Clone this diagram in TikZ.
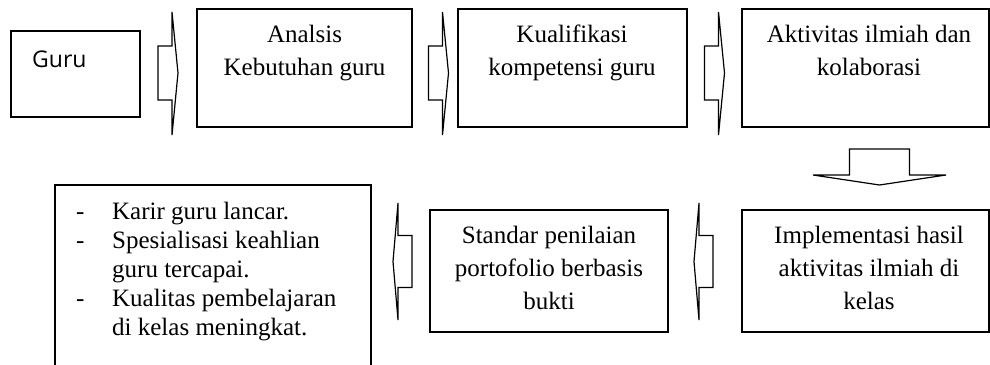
\documentclass[tikz,border=0pt]{standalone}
\usepackage{fontspec}
\setmainfont{Liberation Serif}
\newfontfamily\gurufont{Open Sans}
\begin{document}
\begin{tikzpicture}[x=1pt,y=-1pt,
  box/.style={draw, line width=2pt, rectangle, inner sep=0pt},
  txt/.style={inner sep=0pt, align=center, font=\fontsize{25}{33}\selectfont},
  listtxt/.style={inner sep=0pt, align=left, font=\fontsize{25}{29}\selectfont},
  blockarrow/.style={draw, line width=1.2pt, line join=miter, fill=white},
  rarr/.pic={\path[blockarrow] (-10,-27) -- (4,-27) -- (4,-61) -- (10,0) -- (4,62) -- (4,27) -- (-10,27) -- cycle;},
  larr/.pic={\path[blockarrow] (9.5,-26) -- (-4.5,-26) -- (-4.5,-58.5) -- (-9.5,0) -- (-4.5,58.5) -- (-4.5,26) -- (9.5,26) -- cycle;},
  darr/.pic={\path[blockarrow] (-30,0) -- (-30,26) -- (-66.5,26) -- (0,36) -- (66.5,26) -- (30,26) -- (30,0) -- cycle;}
]
\clip (0,0) rectangle (990,364);
\fill[white] (0,0) rectangle (990,364);

% boxes
\node[box, minimum width=129pt, minimum height=86pt] (guru) at (75.5,74) {};
\node[box, minimum width=215pt, minimum height=118pt] (an) at (304.5,68) {};
\node[box, minimum width=229pt, minimum height=118pt] (kual) at (572.5,68) {};
\node[box, minimum width=247pt, minimum height=118pt] (akt) at (865.5,68) {};
\node[box, minimum width=247pt, minimum height=122pt] (impl) at (865.5,271) {};
\node[box, minimum width=238pt, minimum height=122pt] (std) at (549,271) {};
\node[box, minimum width=316pt, minimum height=200pt] (out) at (213,285) {};

% texts
\node[inner sep=0pt, anchor=base west, font=\gurufont\fontsize{23}{27}\selectfont] (gurutx) at (32,67) {Guru};
\node[txt, anchor=north] (antx) at (304.5,25) {Analsis\\Kebutuhan guru};
\node[txt, anchor=north] (kualtx) at (572,25) {Kualifikasi\\kompetensi guru};
\node[txt, anchor=north] (akttx) at (869,25) {Aktivitas ilmiah dan\\kolaborasi};
\node[txt, anchor=north] (impltx) at (869,226) {Implementasi hasil\\aktivitas ilmiah di\\kelas};
\node[txt, anchor=north] (stdtx) at (549,226) {Standar penilaian\\portofolio berbasis\\bukti};
\node[listtxt, anchor=north west] (outtx) at (76,202) {\makebox[36pt][l]{-}Karir guru lancar.\\
\makebox[36pt][l]{-}Spesialisasi keahlian\\
\hspace*{36pt}guru tercapai.\\
\makebox[36pt][l]{-}Kualitas pembelajaran\\
\hspace*{36pt}di kelas meningkat.};

% block arrows between the boxes
\pic at (168,73) {rarr};
\pic at (438.5,73) {rarr};
\pic at (714.5,73) {rarr};
\pic at (879.5,149) {darr};
\pic at (703.5,261.5) {larr};
\pic at (402.5,261.5) {larr};
\end{tikzpicture}
\end{document}
